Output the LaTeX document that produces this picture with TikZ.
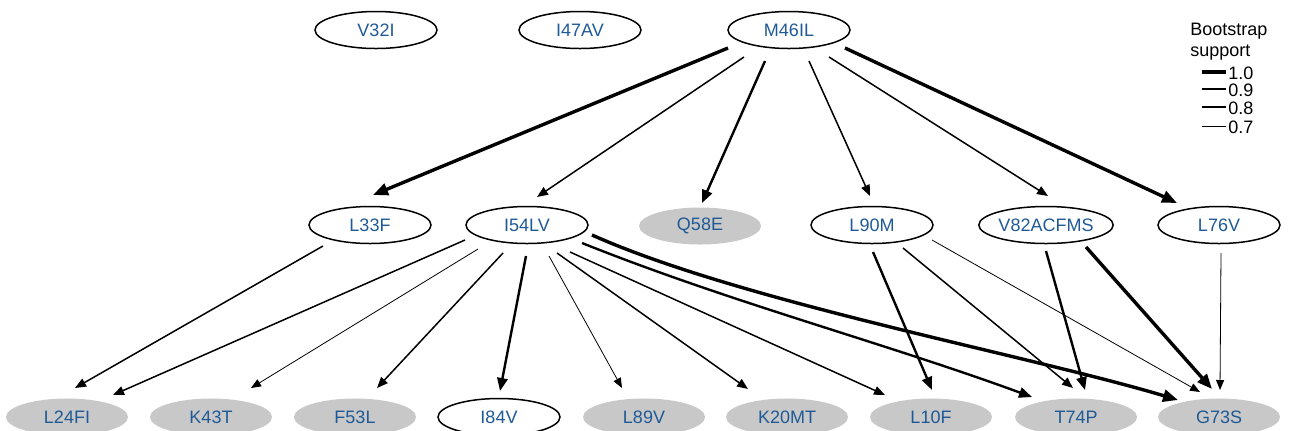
\documentclass[tikz,border=0pt]{standalone}
\usepackage{fontspec}
\setmainfont{Liberation Sans}
\usetikzlibrary{shapes.geometric,arrows.meta,calc}
\definecolor{lblue}{HTML}{1F5A96}
\definecolor{ngray}{HTML}{C8C8C8}
\tikzset{
  mut/.style={ellipse, draw=black, line width=0.75pt, minimum width=61pt, minimum height=18.5pt, inner sep=0pt, text=lblue, font=\fontsize{9}{11}\selectfont},
  mutg/.style={ellipse, fill=ngray, minimum width=61pt, minimum height=18.5pt, inner sep=0pt, text=lblue, font=\fontsize{9}{11}\selectfont},
  legtxt/.style={inner sep=0pt, text=black, font=\fontsize{9}{11}\selectfont},
  wten/.style={line width=1.7pt},
  wnine/.style={line width=1.2pt},
  weight/.style={line width=0.75pt},
  wseven/.style={line width=0.4pt},
  eten/.style={wten, -{Triangle[length=7.5pt,width=6pt]}},
  enine/.style={wnine, -{Triangle[length=6.5pt,width=5.2pt]}},
  eeight/.style={weight, -{Triangle[length=5.5pt,width=4.4pt]}},
  eseven/.style={wseven, -{Triangle[length=5pt,width=4pt]}},
}
\begin{document}
\begin{tikzpicture}[x=0.5pt,y=-0.5pt]
\useasboundingbox (0,0) rectangle (1290,430);
% top row
\node[mut] (v32) at (376,30) {V32I};
\node[mut] (i47) at (580,30) {I47AV};
\node[mut] (m46) at (789,30) {M46IL};
% middle row
\node[mut]  (l33) at (370,225) {L33F};
\node[mut]  (i54) at (527,225) {I54LV};
\node[mutg] (q58) at (700,226) {Q58E};
\node[mut]  (l90) at (872,225) {L90M};
\node[mut]  (v82) at (1046,225) {V82ACFMS};
\node[mut]  (l76) at (1219,225) {L76V};
% bottom row
\node[mutg] (l24) at (67,417) {L24FI};
\node[mutg] (k43) at (211,417) {K43T};
\node[mutg] (f53) at (355,417) {F53L};
\node[mut]  (i84) at (499,417) {I84V};
\node[mutg] (l89) at (644,417) {L89V};
\node[mutg] (k20) at (787,417) {K20MT};
\node[mutg] (l10) at (931,417) {L10F};
\node[mutg] (t74) at (1076,417) {T74P};
\node[mutg] (g73) at (1219,417) {G73S};
% edges from M46IL
\draw[eten]   ($(m46)+(-61,18)$) -- ($(l33)+(3,-30)$);
\draw[eeight] ($(m46)+(-45,27)$) -- ($(i54)+(10,-28)$);
\draw[enine]  ($(m46)+(-24,31)$) -- ($(q58)+(2,-23)$);
\draw[eeight] ($(m46)+(20,31)$)  -- ($(l90)+(-2,-29)$);
\draw[eeight] ($(m46)+(40,27)$)  -- ($(v82)+(2,-29)$);
\draw[eten]   ($(m46)+(56,18)$)  -- ($(l76)+(-42,-22)$);
% from L33F
\draw[eeight] ($(l33)+(-47,21)$) -- ($(l24)+(8,-29)$);
% from I54LV
\draw[eeight] ($(i54)+(-62,15)$) -- ($(l24)+(46,-22)$);
\draw[eseven] ($(i54)+(-49,24)$) -- ($(k43)+(40,-29)$);
\draw[eeight] ($(i54)+(-24,28)$) -- ($(f53)+(22,-29)$);
\draw[enine]  ($(i54)+(-1,31)$)  -- ($(i84)+(1,-26)$);
\draw[eseven] ($(i54)+(22,31)$)  -- ($(l89)+(-22,-29)$);
\draw[eeight] ($(i54)+(30,28)$)  -- ($(k20)+(-39,-28)$);
\draw[eeight] ($(i54)+(43,27)$)  -- ($(l10)+(-46,-22)$);
\draw[enine]  ($(i54)+(55,18)$) .. controls +(150,60) and +(-150,-55) .. ($(t74)+(-44,-20)$);
\draw[eten]   ($(i54)+(65,10)$) .. controls +(150,67) and +(-150,-45) .. ($(g73)+(-41,-17)$);
% from L90M
\draw[enine]  ($(l90)+(1,27)$)  -- ($(l10)+(1,-27)$);
\draw[eeight] ($(l90)+(31,23)$) -- ($(t74)+(-3,-29)$);
\draw[eseven] ($(l90)+(60,15)$) -- ($(g73)+(-19,-25)$);
% from V82ACFMS
\draw[enine]  ($(v82)+(0,26)$)  -- ($(t74)+(9,-27)$);
\draw[eten]   ($(v82)+(40,22)$) -- ($(g73)+(-7,-28)$);
% from L76V
\draw[eseven] ($(l76)+(2,28)$)  -- ($(g73)+(1,-27)$);
% legend
\node[legtxt, anchor=base west] (legA) at (1190,35) {Bootstrap};
\node[legtxt, anchor=base west] (legB) at (1190,56) {support};
\draw[wten]   (1202,72)  -- (1226,72);
\draw[wnine]  (1202,89)  -- (1226,89);
\draw[weight] (1202,107) -- (1226,107);
\draw[wseven] (1202,126) -- (1226,126);
\node[legtxt, anchor=west] (l1) at (1228,73)  {1.0};
\node[legtxt, anchor=west] (l2) at (1228,90)  {0.9};
\node[legtxt, anchor=west] (l3) at (1228,108) {0.8};
\node[legtxt, anchor=west] (l4) at (1228,127) {0.7};
\end{tikzpicture}
\end{document}
